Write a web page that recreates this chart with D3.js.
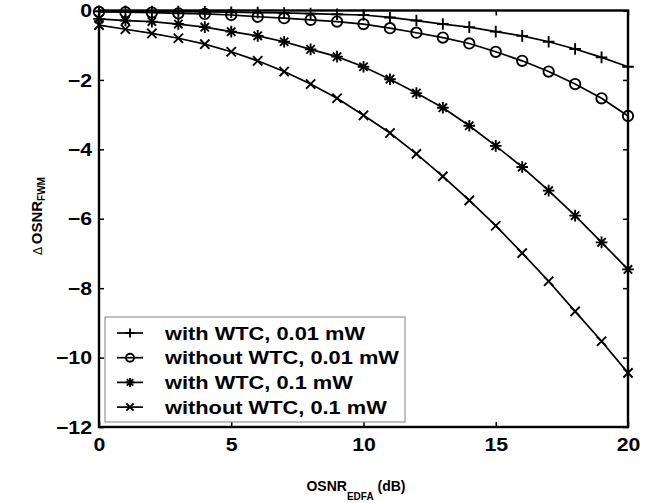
<!DOCTYPE html>
<html>
<head>
<meta charset="utf-8">
<script src="https://cdn.jsdelivr.net/npm/d3@7"></script>
<style>
  html, body { margin: 0; padding: 0; background: #fff; }
  svg { display: block; font-family: "Liberation Sans", Arial, sans-serif; }
</style>
</head>
<body>
<svg id="chart" width="656" height="503"></svg>
<script>
// OSNR_EDFA (dB) sample points
const osnrEdfa = [0, 1, 2, 3, 4, 5, 6, 7, 8, 9, 10, 11, 12, 13, 14, 15, 16, 17, 18, 19, 20];

// Δ OSNR_FWM
const withWtc001 = [-0.02, -0.02, -0.03, -0.03, -0.04, -0.05, -0.06, -0.07, -0.09, -0.11, -0.13,
    -0.20, -0.29, -0.39, -0.48, -0.61, -0.73, -0.90, -1.11, -1.35, -1.62];
const withoutWtc001 = [-0.04, -0.05, -0.06, -0.08, -0.10, -0.13, -0.18, -0.22, -0.27, -0.32, -0.39,
    -0.51, -0.64, -0.78, -0.95, -1.19, -1.45, -1.76, -2.12, -2.53, -3.04];
const withWtc01 = [-0.24, -0.29, -0.32, -0.39, -0.48, -0.61, -0.73, -0.90, -1.12, -1.33, -1.62,
    -1.98, -2.38, -2.80, -3.32, -3.90, -4.51, -5.19, -5.91, -6.68, -7.46];
const withoutWtc01 = [-0.42, -0.54, -0.66, -0.80, -0.97, -1.19, -1.45, -1.76, -2.12, -2.53, -3.02,
    -3.53, -4.13, -4.78, -5.47, -6.20, -6.99, -7.80, -8.67, -9.53, -10.44];

const seriesNames = ["with WTC, 0.01 mW", "without WTC, 0.01 mW", "with WTC, 0.1 mW", "without WTC, 0.1 mW"];
const seriesMarkers = ["plus", "circle", "star", "cross"];
const seriesValues = [withWtc001, withoutWtc001, withWtc01, withoutWtc01];

const xTicks = [0, 5, 10, 15, 20];
const yTicks = [0, -2, -4, -6, -8, -10, -12];

const svg = d3.select("#chart");
const margin = {top: 10.5, right: 28, bottom: 76, left: 99};
const width = 656, height = 503;
const stretch = 1.12; // the original lettering is a bit wider than Arial

const x = d3.scaleLinear().domain([0, 20]).range([margin.left, width - margin.right]);
const y = d3.scaleLinear().domain([-12, 0]).range([height - margin.bottom, margin.top]);

function markerPath(type, r) {
    const p = d3.path();
    if (type === "plus" || type === "star") {
        p.moveTo(-r, 0); p.lineTo(r, 0);
        p.moveTo(0, -r); p.lineTo(0, r);
    }
    if (type === "cross" || type === "star") {
        const k = type === "star" ? r * 0.72 : r * 0.8;
        p.moveTo(-k, -k); p.lineTo(k, k);
        p.moveTo(-k, k); p.lineTo(k, -k);
    }
    if (type === "circle") {
        p.moveTo(r, 0); p.arc(0, 0, r, 0, 2 * Math.PI);
    }
    return p.toString();
}

// ticks (inward, mirrored on top/right like a boxed plot)
const fmt = d3.format("d");
const ticksOpts = g => g.call(s => s.select(".domain").remove())
    .call(s => s.selectAll(".tick line").attr("stroke", "#000").attr("stroke-width", 1.5))
    .call(s => s.selectAll(".tick text").attr("fill", "#000").attr("font-weight", "bold").attr("font-size", 19)
        .attr("transform", function () {
            const tx = +this.getAttribute("x") || 0, ty = +this.getAttribute("y") || 0;
            return `translate(${tx},${ty}) scale(${stretch},1)`;
        })
        .attr("x", 0).attr("y", 0));

svg.append("g").attr("transform", `translate(0,${y(-12)})`)
    .call(d3.axisBottom(x).tickValues(xTicks).tickFormat(fmt).tickSizeInner(-5).tickSizeOuter(0).tickPadding(11))
    .call(ticksOpts);
svg.append("g").attr("transform", `translate(0,${y(0)})`)
    .call(d3.axisTop(x).tickValues(xTicks).tickFormat("").tickSizeInner(-5).tickSizeOuter(0))
    .call(ticksOpts);
svg.append("g").attr("transform", `translate(${x(0)},0)`)
    .call(d3.axisLeft(y).tickValues(yTicks).tickFormat(fmt).tickSizeInner(-5).tickSizeOuter(0).tickPadding(7))
    .call(ticksOpts);
svg.append("g").attr("transform", `translate(${x(20)},0)`)
    .call(d3.axisRight(y).tickValues(yTicks).tickFormat("").tickSizeInner(-5).tickSizeOuter(0))
    .call(ticksOpts);

// box
svg.append("rect")
    .attr("x", x(0)).attr("y", y(0))
    .attr("width", x(20) - x(0)).attr("height", y(-12) - y(0))
    .attr("fill", "none").attr("stroke", "#000").attr("stroke-width", 2.4);

// curves
const line = d3.line().x((d, i) => x(osnrEdfa[i])).y(d => y(d));
seriesValues.forEach((vals, si) => {
    svg.append("path").datum(vals)
        .attr("fill", "none").attr("stroke", "#000").attr("stroke-width", 1.7)
        .attr("d", line);
    svg.append("g").selectAll("path").data(vals).join("path")
        .attr("transform", (d, i) => `translate(${x(osnrEdfa[i])},${y(d)})`)
        .attr("d", markerPath(seriesMarkers[si], seriesMarkers[si] === "circle" ? 5.2 : 5.8))
        .attr("fill", "none").attr("stroke", "#000").attr("stroke-width", 1.9);
});

// legend
const legend = svg.append("g");
legend.append("rect")
    .attr("x", 105).attr("y", 317).attr("width", 300).attr("height", 105)
    .attr("fill", "#fff").attr("stroke", "#808080").attr("stroke-width", 1);
seriesNames.forEach((name, i) => {
    const cy = 333 + i * 24.7;
    const row = legend.append("g").attr("transform", `translate(0,${cy})`);
    row.append("line").attr("x1", 117).attr("x2", 143).attr("stroke", "#000").attr("stroke-width", 1.7);
    row.append("path").attr("transform", "translate(130,0)")
        .attr("d", markerPath(seriesMarkers[i], seriesMarkers[i] === "circle" ? 4 : 4.5))
        .attr("fill", "none").attr("stroke", "#000").attr("stroke-width", 1.9);
    row.append("text").attr("transform", `translate(165,0) scale(1.18,1)`).attr("dy", "0.36em")
        .attr("font-size", 18.5).attr("font-weight", "bold").text(name);
});

// axis labels
const xl = svg.append("text").attr("x", 356).attr("y", 491).attr("text-anchor", "middle")
    .attr("font-weight", "bold").attr("font-size", 14);
xl.append("tspan").text("OSNR");
xl.append("tspan").attr("font-size", 10).attr("dy", 9).text("EDFA");
xl.append("tspan").attr("dy", -9).text(" (dB)");

const yl = svg.append("text").attr("transform", "translate(42,216) rotate(-90)")
    .attr("text-anchor", "middle").attr("font-weight", "bold").attr("font-size", 15);
yl.append("tspan").attr("font-weight", "normal").attr("font-size", 12).text("Δ ");
yl.append("tspan").text("OSNR");
yl.append("tspan").attr("font-size", 10).attr("dy", 3).text("FWM");
</script>
</body>
</html>
